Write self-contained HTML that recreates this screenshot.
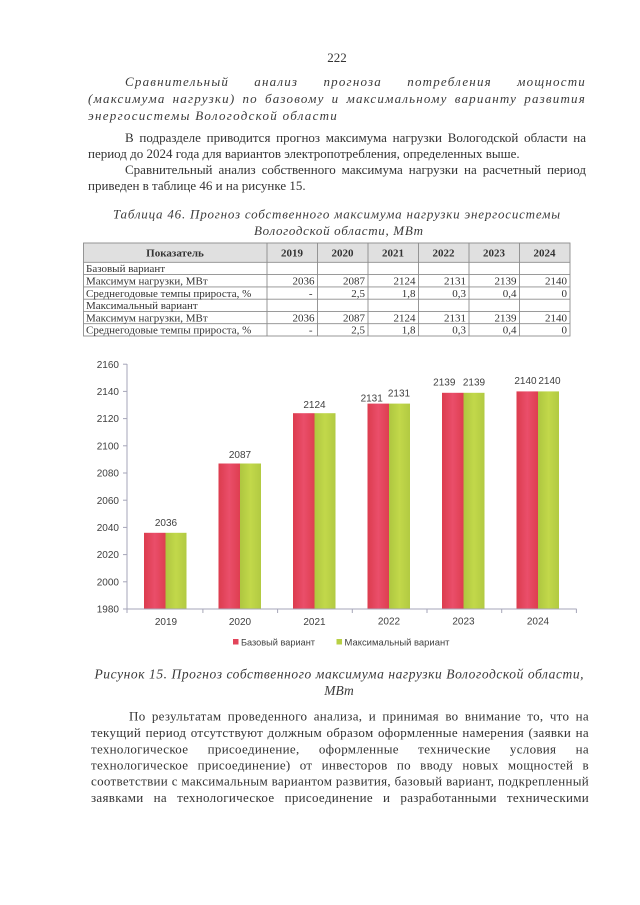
<!DOCTYPE html>
<html>
<head>
<meta charset="utf-8">
<style>
  html, body { margin:0; padding:0; background:#ffffff; }
  body { width:640px; height:905px; overflow:hidden; }
  svg { display:block; }
  .serif { font-family:"Liberation Serif", "Noto Serif CJK SC", serif; fill:#333333; }
  .it { font-style:italic; fill:#3a3a3a; }
  .ls { letter-spacing:1.2px; }
  .p2 { letter-spacing:0.3px; }
  .sans { font-family:"Liberation Sans", "DejaVu Sans", sans-serif; fill:#404040; }
</style>
</head>
<body>
<svg width="640" height="905" viewBox="0 0 640 905" xmlns="http://www.w3.org/2000/svg">
  <defs>
    <linearGradient id="gr" x1="0" y1="0" x2="1" y2="0">
      <stop offset="0" stop-color="#dc3c4e"/>
      <stop offset="0.5" stop-color="#ea4e6a"/>
      <stop offset="1" stop-color="#de3e50"/>
    </linearGradient>
    <linearGradient id="gg" x1="0" y1="0" x2="1" y2="0">
      <stop offset="0" stop-color="#aec640"/>
      <stop offset="0.5" stop-color="#c2d84a"/>
      <stop offset="1" stop-color="#b2ca42"/>
    </linearGradient>
  </defs>
  <rect x="0" y="0" width="640" height="905" fill="#ffffff"/>

  <!-- page number -->
  <text class="serif" x="337" y="62" font-size="13" text-anchor="middle">222</text>

  <!-- italic heading -->
  <g class="serif it ls" font-size="13">
    <text class="j" x="125" y="86" textLength="461" lengthAdjust="spacing">Сравнительный анализ прогноза потребления мощности</text>
    <text class="j" x="88" y="103" textLength="498" lengthAdjust="spacing">(максимума нагрузки) по базовому и максимальному варианту развития</text>
    <text x="88" y="120" textLength="250" lengthAdjust="spacing">энергосистемы Вологодской области</text>
  </g>

  <!-- paragraph 1 -->
  <g class="serif" font-size="13">
    <text class="j" x="125" y="142" textLength="461" lengthAdjust="spacing">В подразделе приводится прогноз максимума нагрузки Вологодской области на</text>
    <text x="88" y="158">период до 2024 года для вариантов электропотребления, определенных выше.</text>
    <text class="j" x="125" y="174" textLength="461" lengthAdjust="spacing">Сравнительный анализ собственного максимума нагрузки на расчетный период</text>
    <text x="88" y="190">приведен в таблице 46 и на рисунке 15.</text>
  </g>

  <!-- table caption -->
  <g class="serif it" font-size="13">
    <text x="113" y="218.5" textLength="447" lengthAdjust="spacing">Таблица 46. Прогноз собственного максимума нагрузки энергосистемы</text>
    <text x="254" y="235" textLength="169" lengthAdjust="spacing">Вологодской области, МВт</text>
  </g>

  <!-- table -->
  <g>
    <rect x="83.5" y="243" width="486.5" height="19.3" fill="#e0e0e0"/>
    <g stroke="#8c8c8c" stroke-width="0.9" fill="none">
      <rect x="83.5" y="243" width="486.5" height="93"/>
      <line x1="83.5" y1="262.3" x2="570" y2="262.3"/>
      <line x1="83.5" y1="274.6" x2="570" y2="274.6"/>
      <line x1="83.5" y1="286.9" x2="570" y2="286.9"/>
      <line x1="83.5" y1="299.2" x2="570" y2="299.2"/>
      <line x1="83.5" y1="311.4" x2="570" y2="311.4"/>
      <line x1="83.5" y1="323.7" x2="570" y2="323.7"/>
      <line x1="267" y1="243" x2="267" y2="336"/>
      <line x1="317.5" y1="243" x2="317.5" y2="336"/>
      <line x1="368" y1="243" x2="368" y2="336"/>
      <line x1="418.5" y1="243" x2="418.5" y2="336"/>
      <line x1="469" y1="243" x2="469" y2="336"/>
      <line x1="519.5" y1="243" x2="519.5" y2="336"/>
    </g>
    <g class="serif" font-size="11" font-weight="bold" text-anchor="middle" fill="#222">
      <text x="175" y="256.5">Показатель</text>
      <text x="292" y="256.5">2019</text>
      <text x="342.5" y="256.5">2020</text>
      <text x="393" y="256.5">2021</text>
      <text x="443.5" y="256.5">2022</text>
      <text x="494" y="256.5">2023</text>
      <text x="544.5" y="256.5">2024</text>
    </g>
    <g class="serif" font-size="11">
      <text x="86" y="272.2">Базовый вариант</text>
      <text x="86" y="284.5">Максимум нагрузки, МВт</text>
      <text x="86" y="296.8">Среднегодовые темпы прироста, %</text>
      <text x="86" y="309">Максимальный вариант</text>
      <text x="86" y="321.3">Максимум нагрузки, МВт</text>
      <text x="86" y="333.6">Среднегодовые темпы прироста, %</text>
    </g>
    <g class="serif" font-size="11" text-anchor="end">
      <text x="314.5" y="284.5">2036</text>
      <text x="365" y="284.5">2087</text>
      <text x="415.5" y="284.5">2124</text>
      <text x="466" y="284.5">2131</text>
      <text x="516.5" y="284.5">2139</text>
      <text x="567" y="284.5">2140</text>
      <text x="312.5" y="296.8">-</text>
      <text x="365" y="296.8">2,5</text>
      <text x="415.5" y="296.8">1,8</text>
      <text x="466" y="296.8">0,3</text>
      <text x="516.5" y="296.8">0,4</text>
      <text x="567" y="296.8">0</text>
      <text x="314.5" y="321.3">2036</text>
      <text x="365" y="321.3">2087</text>
      <text x="415.5" y="321.3">2124</text>
      <text x="466" y="321.3">2131</text>
      <text x="516.5" y="321.3">2139</text>
      <text x="567" y="321.3">2140</text>
      <text x="312.5" y="333.6">-</text>
      <text x="365" y="333.6">2,5</text>
      <text x="415.5" y="333.6">1,8</text>
      <text x="466" y="333.6">0,3</text>
      <text x="516.5" y="333.6">0,4</text>
      <text x="567" y="333.6">0</text>
    </g>
  </g>

  <!-- chart -->
  <g>
    <rect x="144" y="532.8" width="21.5" height="76.2" fill="url(#gr)"/>
    <rect x="165.5" y="532.8" width="21" height="76.2" fill="url(#gg)"/>
    <rect x="218.5" y="463.5" width="21.5" height="145.5" fill="url(#gr)"/>
    <rect x="240" y="463.5" width="21" height="145.5" fill="url(#gg)"/>
    <rect x="293" y="413.2" width="21.5" height="195.8" fill="url(#gr)"/>
    <rect x="314.5" y="413.2" width="21" height="195.8" fill="url(#gg)"/>
    <rect x="367.5" y="403.6" width="21.5" height="205.4" fill="url(#gr)"/>
    <rect x="389" y="403.6" width="21" height="205.4" fill="url(#gg)"/>
    <rect x="442" y="392.8" width="21.5" height="216.2" fill="url(#gr)"/>
    <rect x="463.5" y="392.8" width="21" height="216.2" fill="url(#gg)"/>
    <rect x="516.5" y="391.4" width="21.5" height="217.6" fill="url(#gr)"/>
    <rect x="538" y="391.4" width="21" height="217.6" fill="url(#gg)"/>

    <g stroke="#a6a6b8" stroke-width="1" fill="none">
      <line x1="127" y1="364" x2="127" y2="609"/>
      <line x1="127" y1="609" x2="576.7" y2="609"/>
      <line x1="123" y1="364.2" x2="127" y2="364.2"/>
      <line x1="123" y1="391.4" x2="127" y2="391.4"/>
      <line x1="123" y1="418.6" x2="127" y2="418.6"/>
      <line x1="123" y1="445.8" x2="127" y2="445.8"/>
      <line x1="123" y1="473" x2="127" y2="473"/>
      <line x1="123" y1="500.2" x2="127" y2="500.2"/>
      <line x1="123" y1="527.4" x2="127" y2="527.4"/>
      <line x1="123" y1="554.6" x2="127" y2="554.6"/>
      <line x1="123" y1="581.8" x2="127" y2="581.8"/>
      <line x1="123" y1="609" x2="127" y2="609"/>
      <line x1="127" y1="609" x2="127" y2="613"/>
      <line x1="202.9" y1="609" x2="202.9" y2="613"/>
      <line x1="277.6" y1="609" x2="277.6" y2="613"/>
      <line x1="352.3" y1="609" x2="352.3" y2="613"/>
      <line x1="427" y1="609" x2="427" y2="613"/>
      <line x1="501.7" y1="609" x2="501.7" y2="613"/>
      <line x1="576.4" y1="609" x2="576.4" y2="613"/>
    </g>

    <g class="sans" font-size="10" text-anchor="end">
      <text x="119" y="367.8">2160</text>
      <text x="119" y="395">2140</text>
      <text x="119" y="422.2">2120</text>
      <text x="119" y="449.4">2100</text>
      <text x="119" y="476.6">2080</text>
      <text x="119" y="503.8">2060</text>
      <text x="119" y="531">2040</text>
      <text x="119" y="558.2">2020</text>
      <text x="119" y="585.4">2000</text>
      <text x="119" y="612.6">1980</text>
    </g>

    <g class="sans" font-size="10" text-anchor="middle">
      <text x="166" y="625">2019</text>
      <text x="240" y="625">2020</text>
      <text x="314.5" y="625">2021</text>
      <text x="389" y="624.5">2022</text>
      <text x="463.5" y="624.5">2023</text>
      <text x="538" y="624.5">2024</text>
    </g>

    <g class="sans" font-size="10" text-anchor="middle">
      <text x="166" y="526">2036</text>
      <text x="240" y="458">2087</text>
      <text x="314.5" y="408">2124</text>
      <text x="371.7" y="401.5">2131</text>
      <text x="399" y="396.5">2131</text>
      <text x="444.3" y="385.5">2139</text>
      <text x="474" y="385.5">2139</text>
      <text x="525.5" y="384">2140</text>
      <text x="549.5" y="384">2140</text>
    </g>

    <rect x="233" y="639" width="5.5" height="5.5" fill="#e2445a"/>
    <text class="sans" x="241" y="645.3" font-size="9.5" textLength="74" lengthAdjust="spacingAndGlyphs">Базовый вариант</text>
    <rect x="336.5" y="639" width="5.5" height="5.5" fill="#b8d044"/>
    <text class="sans" x="344.5" y="645.3" font-size="9.5" textLength="105" lengthAdjust="spacingAndGlyphs">Максимальный вариант</text>
  </g>

  <!-- figure caption -->
  <g class="serif it" font-size="13.5">
    <text x="94.5" y="678.5" textLength="489" lengthAdjust="spacing">Рисунок 15. Прогноз собственного максимума нагрузки Вологодской области,</text>
    <text x="339" y="695" text-anchor="middle">МВт</text>
  </g>

  <!-- paragraph 2 -->
  <g class="serif p2" font-size="13">
    <text class="j" x="129" y="720.5" textLength="460" lengthAdjust="spacing">По результатам проведенного анализа, и принимая во внимание то, что на</text>
    <text class="j" x="91" y="737" textLength="498" lengthAdjust="spacing">текущий период отсутствуют должным образом оформленные намерения (заявки на</text>
    <text class="j" x="91" y="753.5" textLength="498" lengthAdjust="spacing">технологическое присоединение, оформленные технические условия на</text>
    <text class="j" x="91" y="769.5" textLength="498" lengthAdjust="spacing">технологическое присоединение) от инвесторов по вводу новых мощностей в</text>
    <text class="j" x="91" y="785.5" textLength="498" lengthAdjust="spacing">соответствии с максимальным вариантом развития, базовый вариант, подкрепленный</text>
    <text class="j" x="91" y="802" textLength="498" lengthAdjust="spacing">заявками на технологическое присоединение и разработанными техническими</text>
  </g>
</svg>
<script>
(function(){
  var els = document.querySelectorAll('text.j');
  for (var i = 0; i < els.length; i++) {
    var t = els[i];
    try {
      var L = parseFloat(t.getAttribute('textLength'));
      var n = (t.textContent.match(/ /g) || []).length;
      if (!n || !L) continue;
      t.removeAttribute('textLength');
      t.removeAttribute('lengthAdjust');
      var w = t.getComputedTextLength();
      var ws = (L - w) / n;
      if (ws < -1.5) {
        t.setAttribute('textLength', L);
        t.setAttribute('lengthAdjust', 'spacing');
        continue;
      }
      t.style.wordSpacing = ws + 'px';
      var w2 = t.getComputedTextLength();
      if (Math.abs(w2 - w) > 0.5 && Math.abs(w2 - L) > 0.5) {
        ws += (L - w2) / n;
        t.style.wordSpacing = ws + 'px';
      }
    } catch (e) {}
  }
})();
</script>
</body>
</html>
